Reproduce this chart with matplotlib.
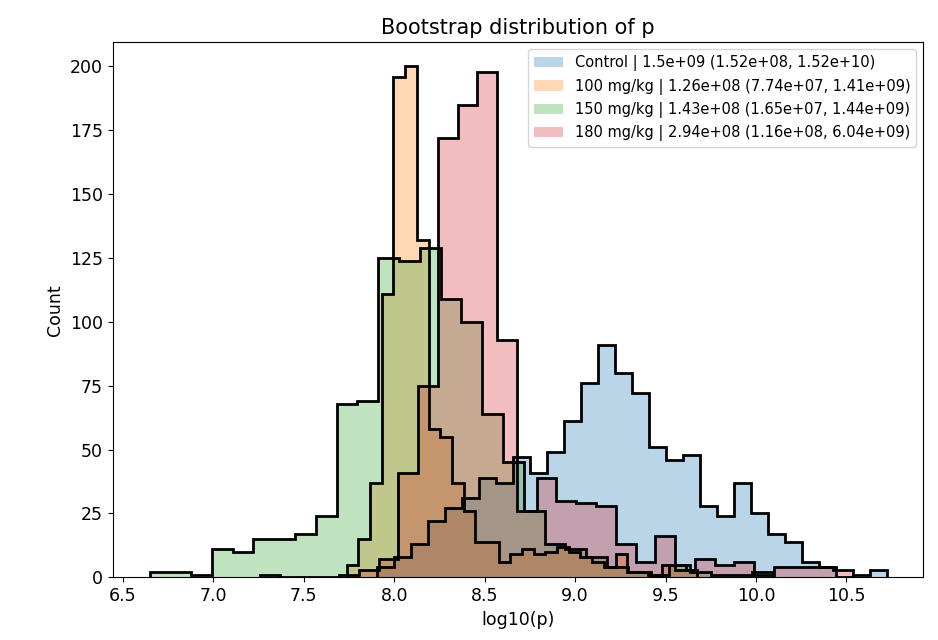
import numpy as np
import matplotlib
matplotlib.use('Agg')
import matplotlib.pyplot as plt

# ===========================
# data (counts per bin, 30 bins per group)
# ===========================
GROUPS = ["Control", "100 mg/kg", "150 mg/kg", "180 mg/kg"]
STATS = [
    "1.5e+09 (1.52e+08, 1.52e+10)",
    "1.26e+08 (7.74e+07, 1.41e+09)",
    "1.43e+08 (1.65e+07, 1.44e+09)",
    "2.94e+08 (1.16e+08, 6.04e+09)",
]

# log10(p) range of each group's bootstrap samples (min, max)
control_range = (7.902, 10.724)
mg100_range = (7.737, 9.676)
mg150_range = (6.647, 10.095)
mg180_range = (7.258, 10.536)

control_counts = [4, 8, 13, 22, 27, 31, 39, 37, 47, 41, 49, 61, 76, 91, 80,
                  72, 51, 46, 48, 28, 24, 37, 25, 17, 14, 6, 4, 0, 1, 3]
mg100_counts = [5, 15, 37, 111, 196, 200, 132, 58, 55, 37, 26, 14, 14, 6, 9,
                11, 9, 10, 12, 10, 8, 6, 4, 9, 2, 2, 1, 5, 5, 3]
mg150_counts = [2, 2, 1, 11, 10, 15, 15, 17, 24, 68, 69, 125, 124, 129, 109,
                100, 64, 45, 26, 13, 11, 8, 4, 2, 1, 5, 2, 1, 1, 2]
mg180_counts = [1, 0, 0, 0, 1, 3, 7, 41, 75, 172, 185, 198, 93, 26, 39,
                30, 29, 28, 13, 6, 16, 3, 7, 5, 6, 1, 4, 4, 4, 3]

ranges = [control_range, mg100_range, mg150_range, mg180_range]
counts = [control_counts, mg100_counts, mg150_counts, mg180_counts]
colors = ["tab:blue", "tab:orange", "tab:green", "tab:red"]

# ===========================
# plot
# ===========================
fig = plt.figure(figsize=(9.38, 6.4), dpi=100)
ax = fig.add_axes([0.1201, 0.098, 0.8642, 0.8361])

hists = []
for grp, st, rng, cnt, col in zip(GROUPS, STATS, ranges, counts, colors):
    edges = np.linspace(rng[0], rng[1], len(cnt) + 1)
    ax.stairs(cnt, edges, fill=True, color=col, alpha=0.3,
              label=f"{grp} | {st}")
    hists.append((cnt, edges))

# black outlines on top
for cnt, edges in hists:
    ax.stairs(cnt, edges, color="black", linewidth=2)

ax.set_xlim(6.443, 10.925)
ax.set_ylim(0, 209.5)
ax.set_xticks([6.5, 7.0, 7.5, 8.0, 8.5, 9.0, 9.5, 10.0, 10.5])
ax.tick_params(labelsize=12.5)
ax.set_title("Bootstrap distribution of p", fontsize=15)
ax.set_xlabel("log10(p)", fontsize=12.5)
ax.set_ylabel("Count", fontsize=12.5)
ax.legend(loc="upper right", fontsize=10.5)

plt.savefig("out.png", dpi=100)
plt.close()
